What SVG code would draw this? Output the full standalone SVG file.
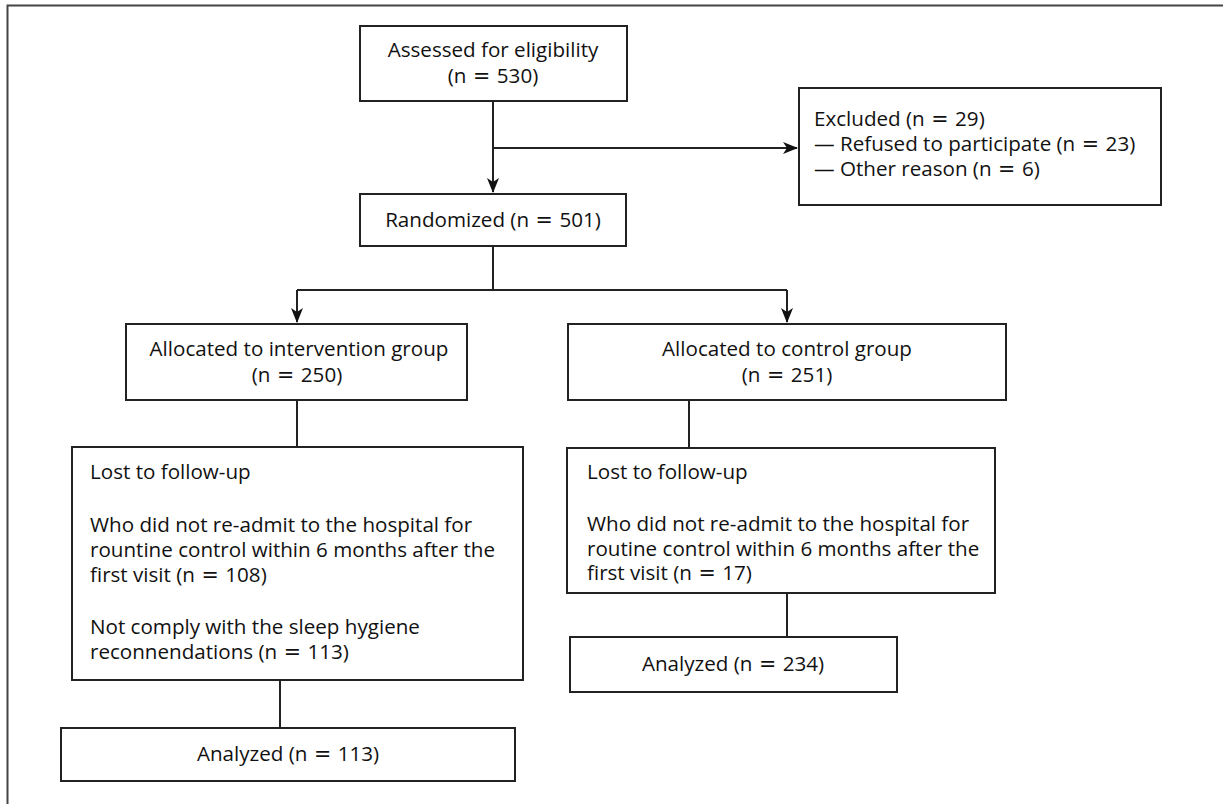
<svg xmlns="http://www.w3.org/2000/svg" width="1223" height="804" viewBox="0 0 1223 804">
<style>
.box{fill:#fff;stroke:#222;stroke-width:2}
.ln{fill:none;stroke:#222;stroke-width:2}
text{font-family:"Open Sans","DejaVu Sans",sans-serif;font-size:20.6px;fill:#111}
.eq{font-family:"DejaVu Sans",sans-serif}
.c{text-anchor:middle}
</style>
<defs>
<marker id="ah" markerWidth="16" markerHeight="12" refX="14" refY="6" orient="auto" markerUnits="userSpaceOnUse">
<path d="M0,0 L15,6 L0,12 L4,6 Z" fill="#111"/>
</marker>
</defs>
<rect width="1223" height="804" fill="#fff"/>
<path d="M7.5,804 V5.5 H1223" fill="none" stroke="#444" stroke-width="2"/>
<g id="connectors">
<path class="ln" d="M493,101 V192" marker-end="url(#ah)"/>
<path class="ln" d="M493,148 H797" marker-end="url(#ah)"/>
<path class="ln" d="M493,246 V290"/>
<path class="ln" d="M297,290 H787"/>
<path class="ln" d="M297,290 V322" marker-end="url(#ah)"/>
<path class="ln" d="M787,290 V322" marker-end="url(#ah)"/>
<path class="ln" d="M297,400 V447"/>
<path class="ln" d="M689,400 V448"/>
<path class="ln" d="M280,680 V728"/>
<path class="ln" d="M787,593 V637"/>
</g>
<g id="assessed">
<rect class="box" x="360" y="26" width="267" height="75"/>
<text class="c" x="493" y="57">Assessed for eligibility</text>
<text class="c" x="493" y="83">(n<tspan class="eq"> = </tspan>530)</text>
</g>
<g id="excluded">
<rect class="box" x="799" y="88" width="362" height="117"/>
<text x="814" y="126">Excluded (n<tspan class="eq"> = </tspan>29)</text>
<text x="814" y="151">— Refused to participate (n<tspan class="eq"> = </tspan>23)</text>
<text x="814" y="176">— Other reason (n<tspan class="eq"> = </tspan>6)</text>
</g>
<g id="randomized">
<rect class="box" x="360" y="194" width="266" height="52"/>
<text class="c" x="493" y="227">Randomized (n<tspan class="eq"> = </tspan>501)</text>
</g>
<g id="alloc-intervention">
<rect class="box" x="126" y="324" width="341" height="76"/>
<text class="c" x="299" y="356">Allocated to intervention group</text>
<text class="c" x="297" y="382">(n<tspan class="eq"> = </tspan>250)</text>
</g>
<g id="alloc-control">
<rect class="box" x="568" y="324" width="438" height="76"/>
<text class="c" x="787" y="356">Allocated to control group</text>
<text class="c" x="787" y="382">(n<tspan class="eq"> = </tspan>251)</text>
</g>
<g id="lost-intervention">
<rect class="box" x="72" y="447" width="451" height="233"/>
<text x="90" y="479">Lost to follow-up</text>
<text x="90" y="532">Who did not re-admit to the hospital for</text>
<text x="90" y="557">rountine control within 6 months after the</text>
<text x="90" y="582">first visit (n<tspan class="eq"> = </tspan>108)</text>
<text x="90" y="634">Not comply with the sleep hygiene</text>
<text x="90" y="659">reconnendations (n<tspan class="eq"> = </tspan>113)</text>
</g>
<g id="lost-control">
<rect class="box" x="567" y="448" width="428" height="145"/>
<text x="587" y="479">Lost to follow-up</text>
<text x="587" y="531">Who did not re-admit to the hospital for</text>
<text x="587" y="556">routine control within 6 months after the</text>
<text x="587" y="580">first visit (n<tspan class="eq"> = </tspan>17)</text>
</g>
<g id="analyzed-intervention">
<rect class="box" x="61" y="728" width="454" height="53"/>
<text class="c" x="288" y="761">Analyzed (n<tspan class="eq"> = </tspan>113)</text>
</g>
<g id="analyzed-control">
<rect class="box" x="570" y="637" width="327" height="55"/>
<text class="c" x="733" y="671">Analyzed (n<tspan class="eq"> = </tspan>234)</text>
</g>
</svg>
